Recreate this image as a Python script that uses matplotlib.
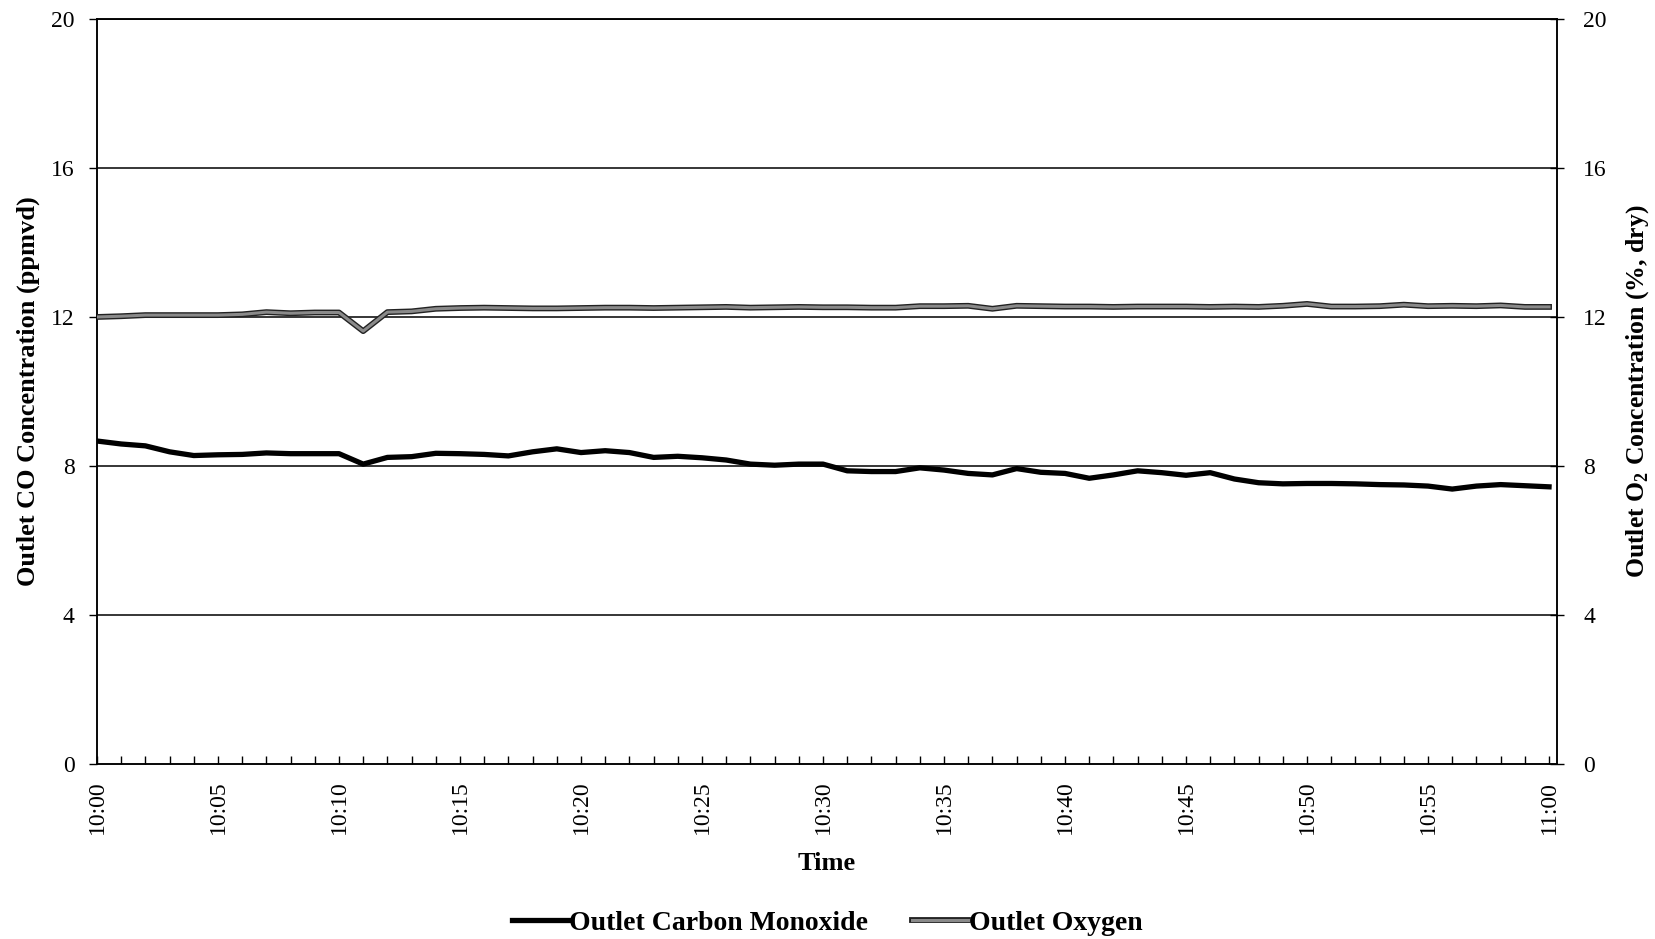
import numpy as np
import matplotlib
matplotlib.use("Agg")
import matplotlib.pyplot as plt
import matplotlib.patheffects as pe

plt.rcParams["font.family"] = ["Liberation Serif", "DejaVu Serif"]
plt.rcParams["mathtext.fontset"] = "custom"
plt.rcParams["mathtext.rm"] = "Liberation Serif"
plt.rcParams["mathtext.bf"] = "Liberation Serif:bold"

# minutes after 10:00, one reading per minute
minutes = list(range(61))
tick_minutes = [0, 5, 10, 15, 20, 25, 30, 35, 40, 45, 50, 55, 60]
tick_labels = ["10:00", "10:05", "10:10", "10:15", "10:20", "10:25", "10:30",
               "10:35", "10:40", "10:45", "10:50", "10:55", "11:00"]

co_ppmvd = [8.67, 8.59, 8.54, 8.38, 8.28, 8.30, 8.31, 8.35, 8.33, 8.33,
            8.33, 8.05, 8.23, 8.25, 8.34, 8.33, 8.31, 8.27, 8.38, 8.46,
            8.36, 8.41, 8.36, 8.23, 8.26, 8.22, 8.16, 8.05, 8.02, 8.05,
            8.05, 7.87, 7.85, 7.85, 7.95, 7.89, 7.80, 7.76, 7.93, 7.83,
            7.80, 7.67, 7.76, 7.87, 7.82, 7.75, 7.82, 7.65, 7.55, 7.52,
            7.53, 7.53, 7.52, 7.50, 7.49, 7.46, 7.38, 7.46, 7.50, 7.47,
            7.44]

o2_pct = [12.00, 12.02, 12.05, 12.05, 12.05, 12.05, 12.07, 12.13, 12.10, 12.12,
          12.12, 11.62, 12.13, 12.15, 12.22, 12.24, 12.25, 12.24, 12.23, 12.23,
          12.24, 12.25, 12.25, 12.24, 12.25, 12.26, 12.27, 12.25, 12.26, 12.27,
          12.26, 12.26, 12.25, 12.25, 12.29, 12.29, 12.30, 12.22, 12.30, 12.29,
          12.28, 12.28, 12.27, 12.28, 12.28, 12.28, 12.27, 12.28, 12.27, 12.30,
          12.35, 12.28, 12.28, 12.29, 12.33, 12.29, 12.30, 12.29, 12.31, 12.27,
          12.27]

y_ticks = [0, 4, 8, 12, 16, 20]

fig = plt.figure(figsize=(16.55, 9.39), dpi=100)
ax = fig.add_axes([0.0586, 0.1864, 0.8822, 0.7934])
ax2 = ax.twinx()

for y in y_ticks[1:]:
    ax.axhline(y, color="black", lw=1.1, zorder=1)

co_line, = ax.plot(minutes, co_ppmvd, color="black", lw=3.8,
                   solid_joinstyle="round", zorder=3,
                   label="Outlet Carbon Monoxide")
o2_line, = ax2.plot(minutes, o2_pct, color="#8a8a8a", lw=2.2, zorder=3,
                    label="Outlet Oxygen",
                    path_effects=[pe.Stroke(linewidth=4.2, foreground="#222222"),
                                  pe.Normal()])

ax.set_xlim(0, 60.33)
ax.set_ylim(0, 20)
ax2.set_ylim(0, 20)
ax.set_yticks(y_ticks)
ax2.set_yticks(y_ticks)

ax.set_xticks(tick_minutes)
ax.set_xticklabels(tick_labels, rotation=90)
ax.set_xticks(minutes, minor=True)
ax.tick_params(axis="x", which="both", direction="in", length=6, width=1,
               labelsize=17, pad=12)
ax.tick_params(axis="y", direction="out", length=6, width=1, labelsize=17, pad=10)
ax2.tick_params(axis="y", direction="inout", length=10, width=1, labelsize=17, pad=14)

for a in (ax, ax2):
    for s in a.spines.values():
        s.set_color("black")
        s.set_linewidth(1.1)

ax.set_xlabel("Time", fontsize=19, fontweight="bold", labelpad=13)
ax.set_ylabel("Outlet CO Concentration (ppmvd)", fontsize=19, fontweight="bold",
              labelpad=8)
ax2.set_ylabel(r"Outlet O$_\mathbf{2}$ Concentration (%, dry)", fontsize=18.5,
               fontweight="bold", rotation=90, labelpad=12)

fig.legend(handles=[co_line, o2_line], loc="center",
           bbox_to_anchor=(0.5, 0.017), ncol=2, frameon=False,
           prop={"weight": "bold", "size": 20}, handlelength=2.0,
           handletextpad=0.05, columnspacing=1.6)

fig.savefig("out.png", dpi=100)
